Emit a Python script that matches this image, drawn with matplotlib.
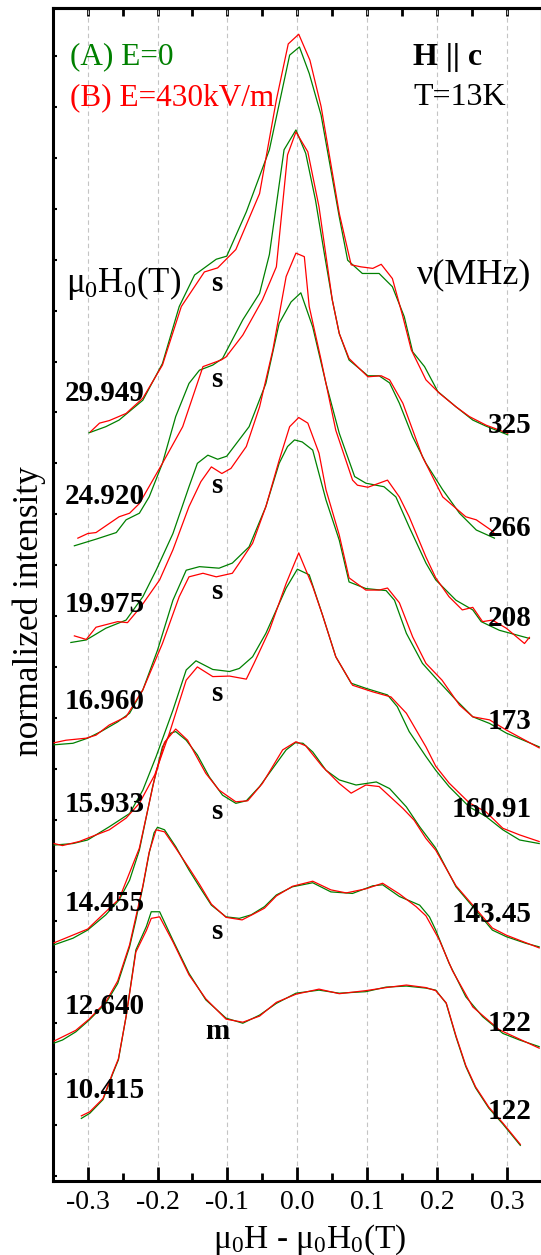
import matplotlib.pyplot as plt
from matplotlib.ticker import MultipleLocator

plt.rcParams["font.family"] = ["Liberation Serif", "DejaVu Serif"]
plt.rcParams["mathtext.fontset"] = "custom"
plt.rcParams["mathtext.rm"] = "Liberation Serif"

GREEN = "#008000"
RED = "#ff0000"

# field shift (T) and normalized intensity (offset per spectrum)
fields = ["29.949", "24.920", "19.975", "16.960", "15.933", "14.455", "12.640", "10.415"]
freqs = ["325", "266", "208", "173", "160.91", "143.45", "122", "122"]
shapes = ["s", "s", "s", "s", "s", "s", "s", "m"]

# 29.949 T
xa1 = [-0.298, -0.274, -0.255, -0.221, -0.193, -0.169, -0.147, -0.116, -0.101, -0.073, -0.040, -0.011,
       0.003, 0.017, 0.034, 0.060, 0.072, 0.093, 0.117, 0.136, 0.153, 0.165, 0.182, 0.201, 0.227, 0.251,
       0.270, 0.301]
ya1 = [14.60, 14.72, 14.85, 15.24, 15.96, 17.08, 17.70, 18.01, 18.07, 18.94, 20.16, 22.02,
       22.18, 21.66, 20.84, 18.84, 17.99, 17.73, 17.73, 17.47, 16.88, 16.19, 15.90, 15.41, 15.11, 14.85,
       14.73, 14.56]
xb1 = [-0.296, -0.283, -0.269, -0.245, -0.221, -0.193, -0.166, -0.133, -0.114, -0.088, -0.054, -0.030,
       -0.013, 0.002, 0.018, 0.034, 0.060, 0.077, 0.091, 0.108, 0.120, 0.136, 0.151, 0.163, 0.184, 0.203,
       0.227, 0.246, 0.270, 0.301]
yb1 = [14.62, 14.79, 14.84, 14.98, 15.28, 15.93, 17.08, 17.76, 17.84, 18.20, 19.30, 21.14,
       22.24, 22.43, 21.92, 21.01, 18.91, 17.90, 17.86, 17.83, 17.91, 17.63, 16.88, 16.23, 15.64, 15.38,
       15.11, 14.92, 14.75, 14.59]

# 24.920 T
xa2 = [-0.319, -0.288, -0.259, -0.245, -0.226, -0.212, -0.193, -0.174, -0.155, -0.140, -0.121, -0.107,
       -0.078, -0.054, -0.040, -0.019, -0.002, 0.012, 0.026, 0.039, 0.050, 0.060, 0.074, 0.101, 0.117,
       0.132, 0.146, 0.165, 0.184, 0.208, 0.232, 0.256, 0.282]
ya2 = [12.38, 12.51, 12.64, 12.89, 13.02, 13.34, 14.00, 14.92, 15.57, 15.83, 15.93, 16.06,
       16.82, 17.34, 18.10, 20.16, 20.55, 20.09, 19.17, 18.09, 17.21, 16.55, 16.03, 15.72, 15.72,
       15.58, 15.18, 14.52, 14.00, 13.48, 13.02, 12.69, 12.53]
xb2 = [-0.314, -0.300, -0.288, -0.255, -0.240, -0.226, -0.193, -0.164, -0.135, -0.109, -0.102, -0.078,
       -0.050, -0.030, -0.014, -0.002, 0.015, 0.031, 0.050, 0.060, 0.074, 0.101, 0.120, 0.132, 0.151,
       0.179, 0.208, 0.241, 0.256, 0.277, 0.282]
yb2 = [12.53, 12.62, 12.64, 12.95, 13.02, 13.21, 14.00, 14.72, 15.90, 16.03, 16.09, 16.52,
       17.21, 17.86, 20.06, 20.51, 20.12, 19.04, 17.21, 16.55, 16.06, 15.70, 15.72, 15.64, 15.18,
       14.13, 13.34, 12.95, 12.89, 12.69, 12.62]

# 19.975 T
xa3 = [-0.324, -0.302, -0.274, -0.245, -0.221, -0.202, -0.178, -0.155, -0.143, -0.128, -0.114, -0.101,
       -0.069, -0.045, -0.026, -0.009, 0.005, 0.022, 0.041, 0.060, 0.082, 0.098, 0.124, 0.141, 0.160,
       0.184, 0.198, 0.227, 0.251, 0.263, 0.289, 0.332]
ya3 = [10.48, 10.53, 10.76, 10.92, 11.38, 11.90, 12.62, 13.54, 14.00, 14.16, 14.08, 14.14,
       14.72, 15.57, 16.75, 17.17, 17.35, 16.68, 15.57, 14.59, 13.74, 13.61, 13.54, 13.34, 12.75,
       12.04, 11.71, 11.31, 11.12, 10.89, 10.72, 10.56]
xb3 = [-0.319, -0.302, -0.288, -0.257, -0.243, -0.224, -0.197, -0.178, -0.155, -0.138, -0.123, -0.108,
       -0.095, -0.073, -0.054, -0.035, -0.016, -0.002, 0.010, 0.017, 0.034, 0.055, 0.079, 0.086, 0.101,
       0.129, 0.146, 0.160, 0.184, 0.198, 0.217, 0.236, 0.251, 0.265, 0.279, 0.299, 0.325, 0.332]
yb3 = [10.61, 10.54, 10.78, 10.89, 10.87, 11.18, 11.71, 12.30, 13.15, 13.64, 13.93, 13.80,
       13.90, 14.33, 15.11, 16.23, 17.67, 18.13, 18.06, 17.08, 16.03, 14.65, 13.67, 13.57, 13.53,
       13.67, 13.34, 12.95, 12.16, 11.75, 11.38, 11.12, 11.17, 10.89, 10.92, 10.76, 10.46, 10.58]

# 16.960 T
xa4 = [-0.348, -0.321, -0.300, -0.281, -0.257, -0.240, -0.221, -0.200, -0.178, -0.159, -0.140, -0.112,
       -0.093, -0.069, -0.045, -0.026, -0.014, -0.004, 0.007, 0.022, 0.041, 0.060, 0.074, 0.098, 0.127,
       0.139, 0.156, 0.179, 0.198, 0.227, 0.251, 0.275, 0.299, 0.346]
ya4 = [8.47, 8.50, 8.60, 8.73, 8.92, 9.09, 9.55, 10.33, 11.31, 11.90, 11.97, 11.94,
       12.04, 12.36, 13.15, 14.00, 14.33, 14.46, 14.42, 14.26, 13.28, 12.49, 11.67, 11.54, 11.50,
       11.31, 10.66, 10.07, 9.78, 9.35, 9.02, 8.89, 8.70, 8.43]
xb4 = [-0.348, -0.331, -0.302, -0.288, -0.269, -0.245, -0.221, -0.193, -0.169, -0.155, -0.135, -0.116,
       -0.093, -0.083, -0.064, -0.045, -0.026, -0.011, 0.002, 0.015, 0.031, 0.041, 0.060, 0.074, 0.098,
       0.117, 0.129, 0.146, 0.165, 0.184, 0.207, 0.232, 0.251, 0.275, 0.299, 0.346]
yb4 = [8.51, 8.56, 8.60, 8.66, 8.86, 9.02, 9.55, 10.46, 11.38, 11.77, 11.84, 11.77,
       11.84, 12.04, 12.43, 13.15, 14.06, 14.72, 14.90, 14.79, 14.20, 13.48, 12.59, 11.75, 11.51,
       11.51, 11.55, 11.26, 10.59, 10.07, 9.74, 9.25, 9.02, 8.96, 8.76, 8.41]

# 15.933 T
xa5 = [-0.348, -0.321, -0.300, -0.269, -0.240, -0.221, -0.202, -0.178, -0.159, -0.145, -0.121, -0.097,
       -0.083, -0.064, -0.045, -0.030, -0.016, 0.000, 0.017, 0.036, 0.055, 0.077, 0.098, 0.129, 0.143,
       0.160, 0.184, 0.198, 0.217, 0.246, 0.270, 0.294, 0.318, 0.346]
ya5 = [6.50, 6.53, 6.60, 6.86, 7.12, 7.58, 8.24, 9.15, 9.94, 10.12, 9.95, 9.91,
       9.97, 10.20, 10.66, 11.12, 11.55, 11.92, 11.81, 11.02, 10.20, 9.68, 9.58, 9.45, 9.22,
       8.73, 8.24, 7.97, 7.65, 7.25, 7.06, 6.80, 6.60, 6.53]
xb5 = [-0.348, -0.336, -0.312, -0.288, -0.269, -0.245, -0.226, -0.204, -0.183, -0.159, -0.143, -0.121,
       -0.097, -0.073, -0.062, -0.040, -0.016, 0.002, 0.022, 0.036, 0.055, 0.079, 0.108, 0.134, 0.156,
       0.184, 0.198, 0.217, 0.246, 0.270, 0.294, 0.318, 0.346]
yb5 = [6.53, 6.49, 6.57, 6.70, 6.80, 7.03, 7.32, 7.88, 8.70, 9.74, 10.00, 9.81,
       9.82, 9.76, 10.07, 10.72, 11.64, 12.24, 11.58, 11.02, 10.20, 9.64, 9.51, 9.41, 9.09,
       8.43, 8.05, 7.72, 7.33, 7.15, 6.83, 6.70, 6.57]

# 14.455 T
xa6 = [-0.348, -0.321, -0.300, -0.274, -0.255, -0.240, -0.226, -0.207, -0.193, -0.181, -0.174, -0.159,
       -0.143, -0.126, -0.107, -0.088, -0.073, -0.054, -0.035, -0.016, -0.003, 0.008, 0.022, 0.041,
       0.060, 0.084, 0.113, 0.132, 0.156, 0.175, 0.198, 0.227, 0.251, 0.279, 0.299, 0.327, 0.346]
ya6 = [4.54, 4.67, 4.83, 5.13, 5.42, 5.81, 6.40, 7.65, 8.43, 8.70, 8.73, 8.56,
       8.27, 7.84, 7.48, 7.32, 7.37, 7.65, 8.01, 8.37, 8.51, 8.50, 8.33, 7.97,
       7.78, 7.68, 7.74, 7.61, 7.25, 6.86, 6.44, 5.68, 5.29, 4.83, 4.70, 4.57, 4.50]
xb6 = [-0.348, -0.300, -0.255, -0.226, -0.204, -0.190, -0.174, -0.157, -0.131, -0.112, -0.088, -0.071,
       -0.050, -0.021, -0.002, 0.012, 0.036, 0.060, 0.077, 0.098, 0.117, 0.151, 0.167, 0.184, 0.198,
       0.227, 0.251, 0.279, 0.299, 0.346]
yb6 = [4.58, 4.85, 5.44, 6.44, 7.82, 8.52, 8.78, 8.56, 7.91, 7.58, 7.35, 7.37,
       7.71, 8.37, 8.53, 8.45, 8.04, 7.71, 7.52, 7.68, 7.65, 7.22, 6.99, 6.63, 6.40,
       5.70, 5.32, 4.87, 4.73, 4.48]

# 12.640 T
xa7 = [-0.348, -0.336, -0.317, -0.298, -0.274, -0.257, -0.240, -0.231, -0.221, -0.212, -0.205, -0.200,
       -0.190, -0.174, -0.155, -0.140, -0.123, -0.102, -0.083, -0.066, -0.047, -0.030, -0.007, 0.022,
       0.048, 0.079, 0.108, 0.122, 0.146, 0.175, 0.189, 0.198, 0.217, 0.241, 0.265, 0.294, 0.318, 0.346]
ya7 = [2.61, 2.67, 2.83, 3.06, 3.39, 3.78, 4.50, 5.03, 5.68, 6.34, 6.74, 6.85,
       6.80, 6.47, 6.01, 5.68, 5.32, 5.09, 5.06, 5.13, 5.29, 5.52, 5.68, 5.76,
       5.58, 5.55, 5.70, 5.72, 5.49, 5.32, 5.09, 4.83, 4.18, 3.52, 3.13, 2.80, 2.67, 2.54]
xb7 = [-0.348, -0.317, -0.298, -0.274, -0.257, -0.240, -0.221, -0.212, -0.202, -0.190, -0.174, -0.155,
       -0.140, -0.123, -0.102, -0.079, -0.062, -0.047, -0.030, -0.007, 0.022, 0.048, 0.070, 0.098,
       0.122, 0.146, 0.170, 0.184, 0.203, 0.222, 0.251, 0.289, 0.346]
yb7 = [2.65, 2.86, 3.08, 3.42, 3.83, 4.54, 5.70, 6.36, 6.80, 6.76, 6.44, 6.05,
       5.73, 5.34, 5.08, 5.03, 5.15, 5.26, 5.50, 5.69, 5.79, 5.62, 5.56, 5.64,
       5.75, 5.54, 5.29, 5.11, 4.64, 4.03, 3.32, 2.87, 2.51]

# 10.415 T
xa8 = [-0.309, -0.297, -0.278, -0.264, -0.256, -0.245, -0.231, -0.216, -0.209, -0.197, -0.178, -0.155,
       -0.131, -0.102, -0.078, -0.054, -0.030, -0.002, 0.031, 0.060, 0.098, 0.127, 0.156, 0.184, 0.198,
       0.213, 0.227, 0.241, 0.255, 0.274, 0.294, 0.319]
ya8 = [1.13, 1.23, 1.50, 2.01, 2.28, 3.13, 4.44, 4.90, 5.19, 5.19, 4.63, 3.98,
       3.46, 3.10, 3.00, 3.16, 3.39, 3.59, 3.65, 3.59, 3.62, 3.71, 3.73, 3.69, 3.65,
       3.39, 2.73, 2.15, 1.73, 1.33, 1.02, 0.60]
xb8 = [-0.309, -0.297, -0.278, -0.264, -0.256, -0.245, -0.231, -0.216, -0.209, -0.197, -0.178, -0.155,
       -0.131, -0.102, -0.078, -0.054, -0.030, -0.002, 0.031, 0.060, 0.098, 0.127, 0.156, 0.184, 0.198,
       0.213, 0.227, 0.241, 0.255, 0.274, 0.294, 0.319]
yb8 = [1.18, 1.26, 1.52, 2.03, 2.30, 3.13, 4.40, 4.82, 5.06, 5.09, 4.60, 3.95,
       3.48, 3.08, 3.02, 3.14, 3.41, 3.57, 3.67, 3.58, 3.64, 3.70, 3.75, 3.70, 3.64,
       3.40, 2.75, 2.17, 1.75, 1.35, 1.04, 0.62]

spectra_a = [(xa1, ya1), (xa2, ya2), (xa3, ya3), (xa4, ya4), (xa5, ya5), (xa6, ya6), (xa7, ya7), (xa8, ya8)]
spectra_b = [(xb1, yb1), (xb2, yb2), (xb3, yb3), (xb4, yb4), (xb5, yb5), (xb6, yb6), (xb7, yb7), (xb8, yb8)]

# label heights (same vertical units as the spectra)
field_label_y = [15.38, 13.34, 11.22, 9.32, 7.29, 5.36, 3.32, 1.68]
freq_label_y = [14.75, 12.72, 10.95, 8.92, 7.19, 5.13, 3.00, 1.26]
shape_label_y = [17.54, 15.64, 13.57, 11.48, 9.48, 7.16, 4.80, 2.83]

fig = plt.figure(figsize=(5.41, 12.55), dpi=100)
ax = fig.add_axes([0.0974, 0.0592, 0.9044, 0.9342])

for x, y in spectra_a:
    ax.plot(x, y, color=GREEN, lw=0.9, zorder=3)
for x, y in spectra_b:
    ax.plot(x, y, color=RED, lw=0.9, zorder=4)

ax.set_xlim(-0.35, 0.35)
ax.set_ylim(-0.094, 22.94)

for gx in [-0.3, -0.2, -0.1, 0.0, 0.1, 0.2, 0.3]:
    ax.axvline(gx, color="#c4c4c4", lw=0.8, ls=(0, (4, 3)), zorder=1)

ax.xaxis.set_minor_locator(MultipleLocator(0.05))
ax.yaxis.set_major_locator(MultipleLocator(1))
ax.set_xticks([-0.3, -0.2, -0.1, 0.0, 0.1, 0.2, 0.3])
ax.set_xticklabels(["-0.3", "-0.2", "-0.1", "0.0", "0.1", "0.2", "0.3"])
ax.tick_params(axis="x", which="major", direction="in", length=10, width=2, labelsize=20, pad=7)
ax.tick_params(axis="x", which="minor", direction="in", length=5.5, width=2)
ax.tick_params(axis="y", which="major", direction="in", length=3, width=1.5, labelleft=False)

top = ax.secondary_xaxis("top")
top.xaxis.set_major_locator(MultipleLocator(0.1))
top.xaxis.set_minor_locator(MultipleLocator(0.05))
top.tick_params(which="both", direction="in", length=6, width=2, labeltop=False)
top.spines["top"].set_linewidth(2.2)

for side in ["left", "bottom", "top", "right"]:
    ax.spines[side].set_linewidth(2.2)

tkw = dict(family=["Liberation Serif", "DejaVu Serif"])
for lab, yy in zip(fields, field_label_y):
    ax.text(-0.333, yy, lab, fontsize=21, fontweight="bold", ha="left", va="center", zorder=5, **tkw)
for lab, yy in zip(freqs, freq_label_y):
    ax.text(0.335, yy, lab, fontsize=21, fontweight="bold", ha="right", va="center", zorder=5, **tkw)
for lab, yy in zip(shapes, shape_label_y):
    ax.text(-0.115, yy, lab, fontsize=21, fontweight="bold", ha="center", va="center", zorder=5, **tkw)

ax.text(-0.325, 21.98, "(A) E=0", color=GREEN, fontsize=22.5, ha="left", va="center", **tkw)
ax.text(-0.325, 21.18, "(B) E=430kV/m", color=RED, fontsize=22.5, ha="left", va="center", **tkw)
ax.text(0.166, 21.98, "H || c", fontsize=23, fontweight="bold", ha="left", va="center", **tkw)
ax.text(0.166, 21.18, "T=13K", fontsize=23, ha="left", va="center", **tkw)
ax.text(-0.331, 17.54, r"$\mathregular{μ_0H_0(T)}$", fontsize=25, ha="left", va="center", **tkw)
ax.text(0.335, 17.70, "ν(MHz)", fontsize=26, ha="right", va="center", **tkw)

fig.text(0.573, 0.006, r"$\mathregular{μ_0H}$ - $\mathregular{μ_0H_0(T)}$", fontsize=24,
         ha="center", va="baseline", **tkw)
fig.text(0.054, 0.513, "normalized intensity", fontsize=25.5, rotation=90, ha="center", va="center", **tkw)

fig.savefig("out.png", dpi=100)
